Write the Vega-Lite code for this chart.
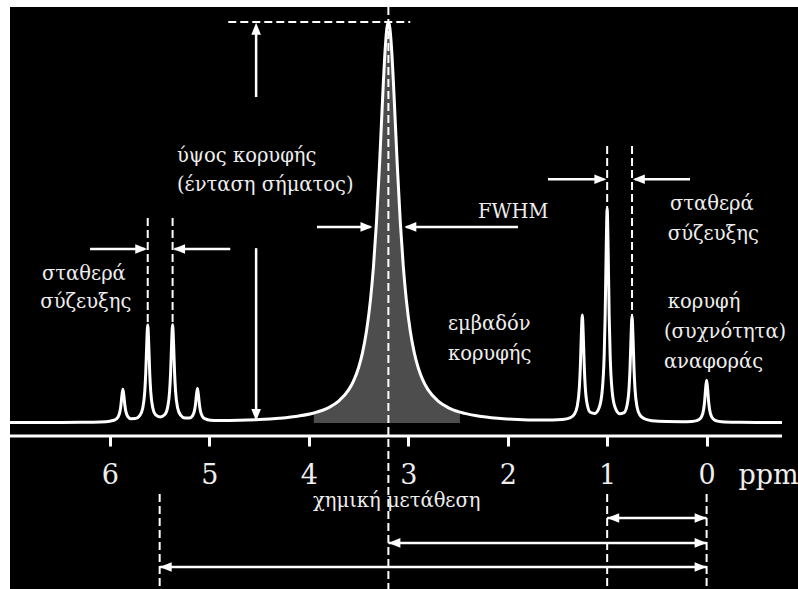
{
  "$schema": "https://vega.github.io/schema/vega-lite/v6.json",
  "width": 788,
  "height": 582,
  "autosize": {"type": "none"},
  "padding": {"left": 10, "top": 7, "right": 0, "bottom": 0},
  "background": "white",
  "config": {
    "view": {"fill": "black", "stroke": null},
    "font": "DejaVu Serif"
  },
  "datasets": {
    "spectrum": [
      {"x": 7.005, "y": 0.001}, {"x": 6.6, "y": 0.0012}, {"x": 6.3, "y": 0.0017}, {"x": 6.1, "y": 0.0027},
      {"x": 6.0, "y": 0.0046}, {"x": 5.95, "y": 0.0077}, {"x": 5.92, "y": 0.0142}, {"x": 5.9, "y": 0.0279},
      {"x": 5.89, "y": 0.0434}, {"x": 5.88, "y": 0.0674}, {"x": 5.87, "y": 0.084}, {"x": 5.86, "y": 0.0681},
      {"x": 5.85, "y": 0.0442}, {"x": 5.84, "y": 0.029}, {"x": 5.82, "y": 0.0159}, {"x": 5.79, "y": 0.0107},
      {"x": 5.745, "y": 0.0109}, {"x": 5.7, "y": 0.0185}, {"x": 5.67, "y": 0.0374}, {"x": 5.65, "y": 0.0781},
      {"x": 5.64, "y": 0.1244}, {"x": 5.63, "y": 0.1965}, {"x": 5.62, "y": 0.2446}, {"x": 5.61, "y": 0.1967},
      {"x": 5.6, "y": 0.1248}, {"x": 5.59, "y": 0.0788}, {"x": 5.57, "y": 0.0385}, {"x": 5.54, "y": 0.0203},
      {"x": 5.495, "y": 0.0152}, {"x": 5.45, "y": 0.0206}, {"x": 5.42, "y": 0.0389}, {"x": 5.4, "y": 0.0791},
      {"x": 5.39, "y": 0.1251}, {"x": 5.38, "y": 0.197}, {"x": 5.37, "y": 0.2452}, {"x": 5.36, "y": 0.1972},
      {"x": 5.35, "y": 0.1251}, {"x": 5.34, "y": 0.079}, {"x": 5.32, "y": 0.0383}, {"x": 5.29, "y": 0.0196},
      {"x": 5.245, "y": 0.0123}, {"x": 5.2, "y": 0.0122}, {"x": 5.17, "y": 0.0176}, {"x": 5.15, "y": 0.0308},
      {"x": 5.14, "y": 0.0459}, {"x": 5.13, "y": 0.0698}, {"x": 5.12, "y": 0.0858}, {"x": 5.11, "y": 0.0695},
      {"x": 5.1, "y": 0.0454}, {"x": 5.09, "y": 0.0299}, {"x": 5.07, "y": 0.0164}, {"x": 5.04, "y": 0.0101},
      {"x": 4.99, "y": 0.007}, {"x": 4.9, "y": 0.0061}, {"x": 4.7, "y": 0.0066}, {"x": 4.5, "y": 0.0084},
      {"x": 4.3, "y": 0.0118}, {"x": 4.1, "y": 0.0175}, {"x": 3.95, "y": 0.025}, {"x": 3.8, "y": 0.0385},
      {"x": 3.7, "y": 0.0545}, {"x": 3.6, "y": 0.0826}, {"x": 3.55, "y": 0.1052}, {"x": 3.5, "y": 0.1379},
      {"x": 3.46, "y": 0.1756}, {"x": 3.42, "y": 0.2293}, {"x": 3.38, "y": 0.3077}, {"x": 3.35, "y": 0.3902},
      {"x": 3.32, "y": 0.5}, {"x": 3.29, "y": 0.64}, {"x": 3.27, "y": 0.7461}, {"x": 3.25, "y": 0.8521},
      {"x": 3.23, "y": 0.9412}, {"x": 3.215, "y": 0.9846}, {"x": 3.2, "y": 1.0}, {"x": 3.185, "y": 0.9846},
      {"x": 3.17, "y": 0.9412}, {"x": 3.15, "y": 0.8521}, {"x": 3.13, "y": 0.7461}, {"x": 3.11, "y": 0.64},
      {"x": 3.08, "y": 0.5}, {"x": 3.05, "y": 0.3902}, {"x": 3.02, "y": 0.3077}, {"x": 2.98, "y": 0.2293},
      {"x": 2.94, "y": 0.1756}, {"x": 2.9, "y": 0.1379}, {"x": 2.85, "y": 0.1052}, {"x": 2.8, "y": 0.0826},
      {"x": 2.7, "y": 0.0545}, {"x": 2.6, "y": 0.0385}, {"x": 2.48, "y": 0.027}, {"x": 2.3, "y": 0.0175},
      {"x": 2.1, "y": 0.0118}, {"x": 1.9, "y": 0.0086}, {"x": 1.7, "y": 0.0073}, {"x": 1.55, "y": 0.0074},
      {"x": 1.45, "y": 0.0086}, {"x": 1.375, "y": 0.0127}, {"x": 1.33, "y": 0.0219}, {"x": 1.3, "y": 0.0429},
      {"x": 1.28, "y": 0.0876}, {"x": 1.27, "y": 0.1379}, {"x": 1.26, "y": 0.2167}, {"x": 1.25, "y": 0.2696},
      {"x": 1.24, "y": 0.2174}, {"x": 1.23, "y": 0.1392}, {"x": 1.22, "y": 0.089}, {"x": 1.2, "y": 0.0455},
      {"x": 1.17, "y": 0.0267}, {"x": 1.125, "y": 0.0239}, {"x": 1.08, "y": 0.0388}, {"x": 1.05, "y": 0.0798},
      {"x": 1.03, "y": 0.169}, {"x": 1.02, "y": 0.2705}, {"x": 1.01, "y": 0.4287}, {"x": 1.0, "y": 0.5344},
      {"x": 0.99, "y": 0.4287}, {"x": 0.98, "y": 0.2704}, {"x": 0.97, "y": 0.1688}, {"x": 0.95, "y": 0.0795},
      {"x": 0.92, "y": 0.0384}, {"x": 0.875, "y": 0.0231}, {"x": 0.83, "y": 0.0257}, {"x": 0.8, "y": 0.0441},
      {"x": 0.78, "y": 0.0868}, {"x": 0.77, "y": 0.1365}, {"x": 0.76, "y": 0.214}, {"x": 0.75, "y": 0.2662},
      {"x": 0.74, "y": 0.2135}, {"x": 0.73, "y": 0.1353}, {"x": 0.72, "y": 0.0851}, {"x": 0.7, "y": 0.0405},
      {"x": 0.67, "y": 0.0196}, {"x": 0.625, "y": 0.0106}, {"x": 0.55, "y": 0.0058}, {"x": 0.4, "y": 0.0035},
      {"x": 0.25, "y": 0.0031}, {"x": 0.15, "y": 0.004}, {"x": 0.1, "y": 0.006}, {"x": 0.08, "y": 0.0081},
      {"x": 0.05, "y": 0.016}, {"x": 0.03, "y": 0.0338}, {"x": 0.02, "y": 0.054}, {"x": 0.01, "y": 0.0855},
      {"x": 0.0, "y": 0.1068}, {"x": -0.01, "y": 0.0855}, {"x": -0.02, "y": 0.0539}, {"x": -0.03, "y": 0.0337},
      {"x": -0.05, "y": 0.0159}, {"x": -0.08, "y": 0.0075}, {"x": -0.1, "y": 0.0053}, {"x": -0.15, "y": 0.0031},
      {"x": -0.3, "y": 0.0017}, {"x": -0.5, "y": 0.0013}, {"x": -0.758, "y": 0.001}
    ],
    "baseline": [{"x": 7.005, "x2": -0.758, "y": -0.0324}],
    "dashed": [
      {"x": 3.2, "x2": 3.2, "y": 1.0374, "y2": -0.414},
      {"x": 4.81, "x2": 2.98, "y": 1.0, "y2": 1.0},
      {"x": 5.62, "x2": 5.62, "y": 0.511, "y2": 0.245},
      {"x": 5.37, "x2": 5.37, "y": 0.511, "y2": 0.248},
      {"x": 1.0, "x2": 1.0, "y": 0.691, "y2": 0.534},
      {"x": 0.75, "x2": 0.75, "y": 0.691, "y2": 0.266},
      {"x": 5.5, "x2": 5.5, "y": -0.177, "y2": -0.414},
      {"x": 1.0, "x2": 1.0, "y": -0.177, "y2": -0.414},
      {"x": 0.0, "x2": 0.0, "y": -0.177, "y2": -0.414}
    ],
    "arrows": [
      {"x": 4.53, "x2": 4.53, "y": 0.813, "y2": 0.97},
      {"x": 4.53, "x2": 4.53, "y": 0.436, "y2": 0.03},
      {"x": 6.2, "x2": 5.65, "y": 0.434, "y2": 0.434},
      {"x": 4.79, "x2": 5.35, "y": 0.434, "y2": 0.434},
      {"x": 3.918, "x2": 3.38, "y": 0.489, "y2": 0.489},
      {"x": 1.897, "x2": 3.02, "y": 0.489, "y2": 0.489},
      {"x": 1.595, "x2": 1.03, "y": 0.608, "y2": 0.608},
      {"x": 0.167, "x2": 0.72, "y": 0.608, "y2": 0.608},
      {"x": 1.0, "x2": 0.0, "y": -0.237, "y2": -0.237},
      {"x": 3.2, "x2": 0.0, "y": -0.299, "y2": -0.299},
      {"x": 5.5, "x2": 0.0, "y": -0.359, "y2": -0.359}
    ],
    "heads": [
      {"x": 4.53, "y": 0.998, "dir": "up"},
      {"x": 4.53, "y": 0.005, "dir": "down"},
      {"x": 5.625, "y": 0.434, "dir": "right"},
      {"x": 5.365, "y": 0.434, "dir": "left"},
      {"x": 3.36, "y": 0.489, "dir": "right"},
      {"x": 3.04, "y": 0.489, "dir": "left"},
      {"x": 1.008, "y": 0.608, "dir": "right"},
      {"x": 0.742, "y": 0.608, "dir": "left"},
      {"x": 1.0, "y": -0.237, "dir": "left"},
      {"x": 0.0, "y": -0.237, "dir": "right"},
      {"x": 3.2, "y": -0.299, "dir": "left"},
      {"x": 0.0, "y": -0.299, "dir": "right"},
      {"x": 5.5, "y": -0.359, "dir": "left"},
      {"x": 0.0, "y": -0.359, "dir": "right"}
    ],
    "labels": [
      {"x": 5.326, "y": 0.651, "t": "ύψος κορυφής"},
      {"x": 5.326, "y": 0.5786, "t": "(ένταση σήματος)"},
      {"x": 6.683, "y": 0.3566, "t": "σταθερά"},
      {"x": 6.7, "y": 0.2868, "t": "σύζευξης"},
      {"x": 2.299, "y": 0.5112, "t": "FWHM"},
      {"x": 0.368, "y": 0.5312, "t": "σταθερά"},
      {"x": 0.39, "y": 0.4564, "t": "σύζευξης"},
      {"x": 0.39, "y": 0.2868, "t": "κορυφή"},
      {"x": 0.429, "y": 0.212, "t": "(συχνότητα)"},
      {"x": 0.429, "y": 0.1372, "t": "αναφοράς"},
      {"x": 2.601, "y": 0.2319, "t": "εμβαδόν"},
      {"x": 2.601, "y": 0.1571, "t": "κορυφής"},
      {"x": 3.958, "y": -0.2095, "t": "χημική μετάθεση"}
    ]
  },
  "encoding": {
    "x": {
      "field": "x",
      "type": "quantitative",
      "scale": {"domain": [7.005, -0.919], "nice": false, "zero": false},
      "axis": {
        "values": [0, 1, 2, 3, 4, 5, 6],
        "format": "d",
        "domain": false,
        "grid": false,
        "ticks": true,
        "tickColor": "white",
        "tickWidth": 3,
        "tickSize": 10,
        "labelFont": "DejaVu Serif",
        "labelFontSize": 27,
        "labelColor": "#eeeeee",
        "labelBaseline": "alphabetic",
        "labelPadding": 37,
        "labelFlush": false,
        "labelOverlap": false,
        "offset": -153,
        "title": "ppm",
        "titleFont": "DejaVu Serif",
        "titleFontSize": 27,
        "titleFontWeight": "normal",
        "titleColor": "#eeeeee",
        "titleX": 728,
        "titleY": 47,
        "titleAlign": "left",
        "titleBaseline": "alphabetic"
      }
    },
    "y": {
      "field": "y",
      "type": "quantitative",
      "scale": {"domain": [-0.414, 1.0374], "nice": false, "zero": false},
      "axis": null
    }
  },
  "layer": [
    {
      "data": {"name": "spectrum"},
      "transform": [{"filter": "datum.x >= 2.48 && datum.x <= 3.95"}],
      "mark": {"type": "area", "color": "#4d4d4d", "interpolate": "monotone"},
      "encoding": {"y2": {"datum": 0}}
    },
    {
      "data": {"name": "spectrum"},
      "mark": {"type": "line", "color": "white", "strokeWidth": 3, "interpolate": "monotone"}
    },
    {
      "data": {"name": "baseline"},
      "mark": {"type": "rule", "color": "white", "strokeWidth": 3},
      "encoding": {"x2": {"field": "x2"}}
    },
    {
      "data": {"name": "dashed"},
      "mark": {"type": "rule", "color": "white", "strokeWidth": 2, "strokeDash": [8, 4]},
      "encoding": {"x2": {"field": "x2"}, "y2": {"field": "y2"}}
    },
    {
      "data": {"name": "arrows"},
      "mark": {"type": "rule", "color": "white", "strokeWidth": 2.5},
      "encoding": {"x2": {"field": "x2"}, "y2": {"field": "y2"}}
    },
    {
      "data": {"name": "heads"},
      "mark": {"type": "point", "filled": true, "color": "white", "opacity": 1, "size": 144, "strokeWidth": 0},
      "encoding": {
        "shape": {
          "field": "dir",
          "type": "nominal",
          "scale": {
            "domain": ["right", "left", "up", "down"],
            "range": ["M0,0L-2,-0.8L-2,0.8Z", "M0,0L2,-0.8L2,0.8Z", "M0,0L-0.8,2L0.8,2Z", "M0,0L-0.8,-2L0.8,-2Z"]
          },
          "legend": null
        }
      }
    },
    {
      "data": {"name": "labels"},
      "mark": {"type": "text", "align": "left", "baseline": "alphabetic", "font": "DejaVu Serif", "fontSize": 19.5, "color": "#eeeeee"},
      "encoding": {"text": {"field": "t"}}
    }
  ]
}
